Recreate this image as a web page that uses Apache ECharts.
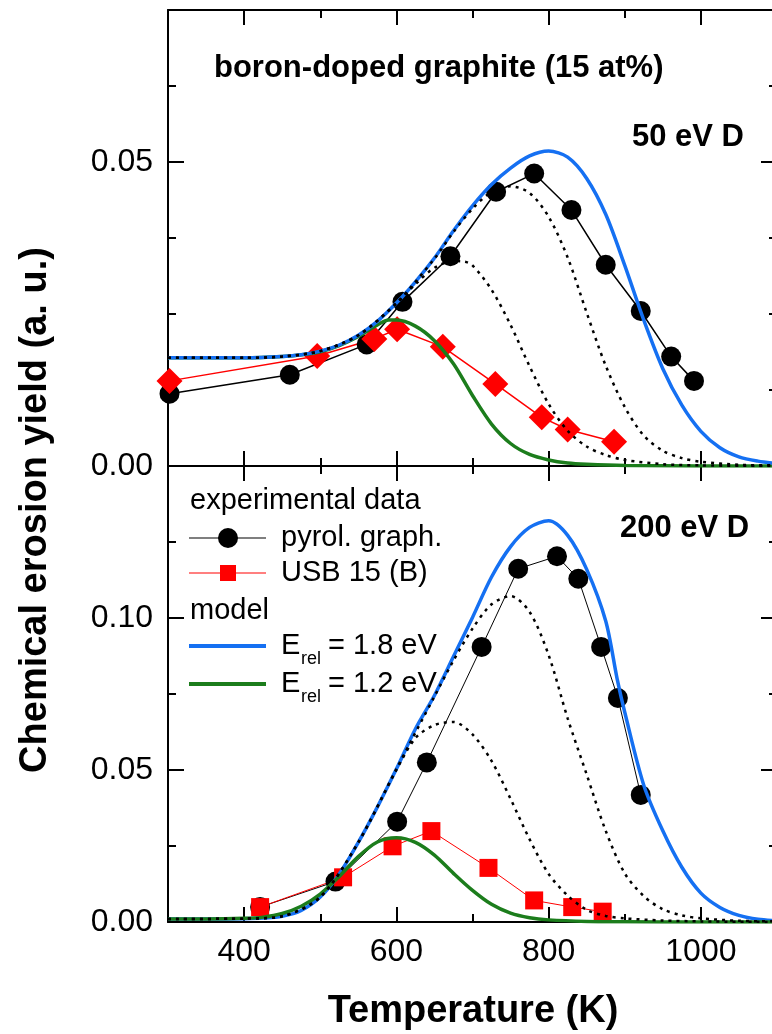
<!DOCTYPE html>
<html>
<head>
<meta charset="utf-8">
<script src="https://cdn.jsdelivr.net/npm/echarts@6/dist/echarts.min.js"></script>
<style>
html,body{margin:0;padding:0;background:#fff;}
#chart{width:772px;height:1034px;}
</style>
</head>
<body>
<div id="chart"></div>
<script>
// ---------- tick values ----------
const xTicksMajor = [400, 600, 800, 1000];
const xTicksMinor = [500, 700, 900];
const topYLabels = [0, 0.05];
const topYMajor = [0.05];
const topYMinor = [0.0125, 0.025, 0.0375, 0.0625];
const botYLabels = [0, 0.05, 0.10];
const botYMajor = [0.05, 0.10];
const botYMinor = [0.025, 0.075, 0.125];

// ---------- 50 eV D (top panel) ----------
const topPyrol = [[302,0.0119],[460,0.0150],[561,0.0200],[608,0.0270],[671,0.0345],[731,0.0451],[781,0.0481],[830,0.0421],[875,0.0331],[921,0.0255],[961,0.0180],[991,0.0140]];
const topUSB = [[302,0.0140],[496,0.0181],[571,0.0209],[601,0.0225],[661,0.0196],[730,0.0135],[791,0.0080],[825,0.0060],[886,0.0040]];
const topBlue = [[300,0.0178],[350,0.0178],[400,0.0178],[450,0.0180],[475,0.0183],[500,0.0189],[525,0.0199],[550,0.0215],[575,0.0238],[600,0.0268],[625,0.0303],[650,0.0342],[675,0.0387],[700,0.0428],[725,0.0463],[750,0.0490],[775,0.0510],[800,0.0518],[825,0.0508],[850,0.0473],[875,0.0414],[900,0.0330],[925,0.0240],[950,0.0160],[975,0.0100],[1000,0.0057],[1025,0.0030],[1050,0.0015],[1075,0.0008],[1100,0.0004]];
const topGreen = [[300,0.0178],[400,0.0178],[450,0.0180],[475,0.0183],[500,0.0188],[525,0.0198],[550,0.0213],[575,0.0232],[590,0.0240],[600,0.0240],[625,0.0230],[650,0.0206],[675,0.0168],[700,0.0116],[725,0.0069],[750,0.0037],[775,0.0019],[800,0.0010],[825,0.0005],[850,0.0003],[900,0.0001],[1000,0],[1100,0]];
const topDot1 = [[300,0.0178],[400,0.0178],[450,0.0180],[500,0.0189],[550,0.0215],[600,0.0267],[625,0.0299],[650,0.0326],[675,0.0337],[690,0.0336],[700,0.0330],[725,0.0290],[750,0.0232],[775,0.0164],[800,0.0102],[825,0.0058],[850,0.0032],[875,0.0018],[900,0.0010],[950,0.0003],[1000,0.0001],[1100,0]];
const topDot2 = [[300,0.0178],[400,0.0178],[450,0.0180],[500,0.0189],[550,0.0215],[600,0.0268],[650,0.0341],[675,0.0385],[700,0.0423],[725,0.0451],[750,0.0460],[775,0.0449],[800,0.0410],[825,0.0343],[850,0.0252],[875,0.0165],[900,0.0097],[925,0.0050],[950,0.0025],[975,0.0013],[1000,0.0007],[1050,0.0002],[1100,0.0001]];

// ---------- 200 eV D (bottom panel) ----------
const botPyrol = [[421,0.0049],[520,0.0133],[601,0.0330],[640,0.0525],[712,0.0905],[760,0.1162],[811,0.1203],[839,0.1129],[869,0.0905],[891,0.0737],[921,0.0418]];
const botUSB = [[421,0.0049],[530,0.0147],[595,0.0249],[646,0.0299],[721,0.0178],[781,0.0071],[831,0.0049],[871,0.0034]];
const botBlue = [[300,0.0010],[350,0.0010],[400,0.0011],[425,0.0013],[450,0.0019],[475,0.0038],[500,0.0082],[525,0.0158],[550,0.0262],[575,0.0378],[600,0.0503],[625,0.0635],[650,0.0745],[675,0.0873],[700,0.1002],[725,0.1135],[750,0.1235],[775,0.1298],[800,0.1320],[825,0.1272],[850,0.1160],[875,0.0990],[890,0.0800],[900,0.0690],[925,0.0450],[950,0.0300],[975,0.0180],[1000,0.0095],[1025,0.0048],[1050,0.0022],[1075,0.0009],[1100,0.0004]];
const botGreen = [[300,0.0010],[350,0.0010],[400,0.0012],[425,0.0016],[450,0.0028],[475,0.0052],[500,0.0092],[525,0.0150],[550,0.0215],[575,0.0263],[600,0.0277],[625,0.0262],[650,0.0220],[675,0.0160],[700,0.0104],[725,0.0058],[750,0.0029],[775,0.0014],[800,0.0007],[850,0.0002],[900,0.0001],[1000,0],[1100,0]];
const botDot1 = [[300,0.0010],[400,0.0011],[450,0.0019],[500,0.0082],[550,0.0262],[600,0.0500],[625,0.0605],[650,0.0648],[675,0.0658],[700,0.0617],[725,0.0530],[750,0.0405],[775,0.0272],[800,0.0158],[825,0.0087],[850,0.0040],[875,0.0020],[900,0.0012],[950,0.0005],[1000,0.0002],[1100,0]];
const botDot2 = [[300,0.0010],[400,0.0011],[450,0.0019],[500,0.0082],[550,0.0262],[600,0.0503],[650,0.0742],[675,0.0860],[700,0.0965],[725,0.1045],[750,0.1072],[775,0.1020],[800,0.0878],[825,0.0670],[850,0.0485],[875,0.0300],[900,0.0160],[925,0.0085],[950,0.0042],[975,0.0022],[1000,0.0012],[1050,0.0004],[1100,0.0002]];

// ---------- text ----------
const titleText = 'boron-doped graphite (15 at%)';
const topLabel = '50 eV D';
const botLabel = '200 eV D';
const xTitle = 'Temperature (K)';
const yTitle = 'Chemical erosion yield (a. u.)';

const FONT = '"Liberation Sans", Arial, Helvetica, sans-serif';
const BLUE = '#1570f2';
const GREEN = '#1c7d1c';
const RED = '#ff0000';

const chart = echarts.init(document.getElementById('chart'), null, {renderer: 'canvas'});

function xAx(grid, pos, ticks, len, line, labels) {
  return {
    type: 'value', gridIndex: grid, position: pos, min: 300, max: 1100,
    axisLine: {show: line, onZero: false, lineStyle: {color: '#000', width: 2}},
    axisTick: {show: true, inside: true, length: len, customValues: ticks, lineStyle: {color: '#000', width: 2}},
    axisLabel: labels ? {show: true, customValues: xTicksMajor, fontSize: 32, fontFamily: FONT, color: '#000', margin: 14,
      formatter: v => String(Math.round(v))} : {show: false},
    splitLine: {show: false}
  };
}
function yAx(grid, pos, max, ticks, len, line, labels) {
  return {
    type: 'value', gridIndex: grid, position: pos, min: 0, max: max,
    axisLine: {show: line, onZero: false, lineStyle: {color: '#000', width: 2}},
    axisTick: {show: true, inside: true, length: len, customValues: ticks, lineStyle: {color: '#000', width: 2}},
    axisLabel: labels ? {show: true, customValues: labels, fontSize: 32, fontFamily: FONT, color: '#000', margin: 15,
      formatter: v => Number(v).toFixed(2)} : {show: false},
    splitLine: {show: false}
  };
}

function curve(xi, yi, data, color, width, type, z) {
  return {type: 'line', xAxisIndex: xi, yAxisIndex: yi, data: data, showSymbol: false, symbol: 'none',
    smooth: 0.3, lineStyle: {color: color, width: width, type: type, cap: 'butt'}, z: z, silent: true};
}
function dataSeries(xi, yi, data, color, symbol, size, width) {
  return {type: 'line', xAxisIndex: xi, yAxisIndex: yi, data: data, symbol: symbol, symbolSize: size,
    showSymbol: true, itemStyle: {color: color, borderWidth: 0}, lineStyle: {color: color, width: width}, z: 2, silent: true};
}

const legendY = [501, 538, 573, 611, 646, 684];
const graphic = [
  {type: 'text', x: 214, y: 68, style: {text: titleText, font: 'bold 31px ' + FONT, fill: '#000', verticalAlign: 'middle', textVerticalAlign: 'middle'}},
  {type: 'text', x: 632, y: 137, style: {text: topLabel, font: 'bold 31px ' + FONT, fill: '#000', verticalAlign: 'middle', textVerticalAlign: 'middle'}},
  {type: 'text', x: 620, y: 528, style: {text: botLabel, font: 'bold 31px ' + FONT, fill: '#000', verticalAlign: 'middle', textVerticalAlign: 'middle'}},
  {type: 'text', x: 473, y: 1012, style: {text: xTitle, font: 'bold 38px ' + FONT, fill: '#000', align: 'center', textAlign: 'center', verticalAlign: 'middle', textVerticalAlign: 'middle'}},
  {type: 'text', x: 36, y: 510, rotation: Math.PI / 2, style: {text: yTitle, font: 'bold 38px ' + FONT, fill: '#000', align: 'center', textAlign: 'center', verticalAlign: 'middle', textVerticalAlign: 'middle'}},
  // legend
  {type: 'text', x: 190, y: legendY[0], style: {text: 'experimental data', font: '29px ' + FONT, fill: '#000', verticalAlign: 'middle', textVerticalAlign: 'middle'}},
  {type: 'line', shape: {x1: 189, y1: legendY[1], x2: 266, y2: legendY[1]}, style: {stroke: '#000', lineWidth: 1.2}},
  {type: 'circle', shape: {cx: 228, cy: legendY[1], r: 10}, style: {fill: '#000'}},
  {type: 'text', x: 281, y: legendY[1], style: {text: 'pyrol. graph.', font: '29px ' + FONT, fill: '#000', verticalAlign: 'middle', textVerticalAlign: 'middle'}},
  {type: 'line', shape: {x1: 189, y1: legendY[2], x2: 266, y2: legendY[2]}, style: {stroke: RED, lineWidth: 1.2}},
  {type: 'rect', shape: {x: 220, y: legendY[2] - 8, width: 16, height: 16}, style: {fill: RED}},
  {type: 'text', x: 281, y: legendY[2], style: {text: 'USB 15 (B)', font: '29px ' + FONT, fill: '#000', verticalAlign: 'middle', textVerticalAlign: 'middle'}},
  {type: 'text', x: 190, y: legendY[3], style: {text: 'model', font: '29px ' + FONT, fill: '#000', verticalAlign: 'middle', textVerticalAlign: 'middle'}},
  {type: 'line', shape: {x1: 189, y1: legendY[4], x2: 266, y2: legendY[4]}, style: {stroke: BLUE, lineWidth: 4}},
  {type: 'text', x: 281, y: legendY[4], style: {text: 'E', font: '29px ' + FONT, fill: '#000', verticalAlign: 'middle', textVerticalAlign: 'middle'}},
  {type: 'text', x: 301, y: legendY[4] + 13, style: {text: 'rel', font: '18px ' + FONT, fill: '#000', verticalAlign: 'middle', textVerticalAlign: 'middle'}},
  {type: 'text', x: 328, y: legendY[4], style: {text: '= 1.8 eV', font: '29px ' + FONT, fill: '#000', verticalAlign: 'middle', textVerticalAlign: 'middle'}},
  {type: 'line', shape: {x1: 189, y1: legendY[5], x2: 266, y2: legendY[5]}, style: {stroke: GREEN, lineWidth: 4}},
  {type: 'text', x: 281, y: legendY[5], style: {text: 'E', font: '29px ' + FONT, fill: '#000', verticalAlign: 'middle', textVerticalAlign: 'middle'}},
  {type: 'text', x: 301, y: legendY[5] + 13, style: {text: 'rel', font: '18px ' + FONT, fill: '#000', verticalAlign: 'middle', textVerticalAlign: 'middle'}},
  {type: 'text', x: 328, y: legendY[5], style: {text: '= 1.2 eV', font: '29px ' + FONT, fill: '#000', verticalAlign: 'middle', textVerticalAlign: 'middle'}}
];

const DOT = [3, 5];
const option = {
  animation: false,
  backgroundColor: '#fff',
  textStyle: {fontFamily: FONT},
  grid: [
    {left: 168, right: -5, top: 10, height: 456, containLabel: false, outerBoundsMode: 'none'},
    {left: 168, right: -5, top: 466, height: 456, containLabel: false, outerBoundsMode: 'none'}
  ],
  xAxis: [
    xAx(0, 'bottom', xTicksMajor, 15, true, false),
    xAx(0, 'bottom', xTicksMinor, 8, false, false),
    xAx(0, 'top', xTicksMajor, 15, true, false),
    xAx(0, 'top', xTicksMinor, 8, false, false),
    xAx(1, 'bottom', xTicksMajor, 15, true, true),
    xAx(1, 'bottom', xTicksMinor, 8, false, false),
    xAx(1, 'top', xTicksMajor, 15, true, false),
    xAx(1, 'top', xTicksMinor, 8, false, false)
  ],
  yAxis: [
    yAx(0, 'left', 0.075, topYMajor, 16, true, topYLabels),
    yAx(0, 'left', 0.075, topYMinor, 8, false, null),
    yAx(0, 'right', 0.075, topYMajor, 16, true, null),
    yAx(0, 'right', 0.075, topYMinor, 8, false, null),
    yAx(1, 'left', 0.15, botYMajor, 16, true, botYLabels),
    yAx(1, 'left', 0.15, botYMinor, 8, false, null),
    yAx(1, 'right', 0.15, botYMajor, 16, true, null),
    yAx(1, 'right', 0.15, botYMinor, 8, false, null)
  ],
  series: [
    dataSeries(0, 0, topPyrol, '#000', 'circle', 20, 1.5),
    dataSeries(0, 0, topUSB, RED, 'diamond', 26, 1.5),
    curve(0, 0, topGreen, GREEN, 3.5, 'solid', 3),
    curve(0, 0, topBlue, BLUE, 3.5, 'solid', 3),
    curve(0, 0, topDot1, '#000', 2.5, DOT, 4),
    curve(0, 0, topDot2, '#000', 2.5, DOT, 4),

    dataSeries(4, 4, botPyrol, '#000', 'circle', 20, 1),
    dataSeries(4, 4, botUSB, RED, 'rect', 18, 1),
    curve(4, 4, botBlue, BLUE, 3.5, 'solid', 3),
    curve(4, 4, botGreen, GREEN, 3.5, 'solid', 3),
    curve(4, 4, botDot1, '#000', 2.5, DOT, 4),
    curve(4, 4, botDot2, '#000', 2.5, DOT, 4)
  ],
  graphic: graphic
};
chart.setOption(option);
</script>
</body>
</html>
